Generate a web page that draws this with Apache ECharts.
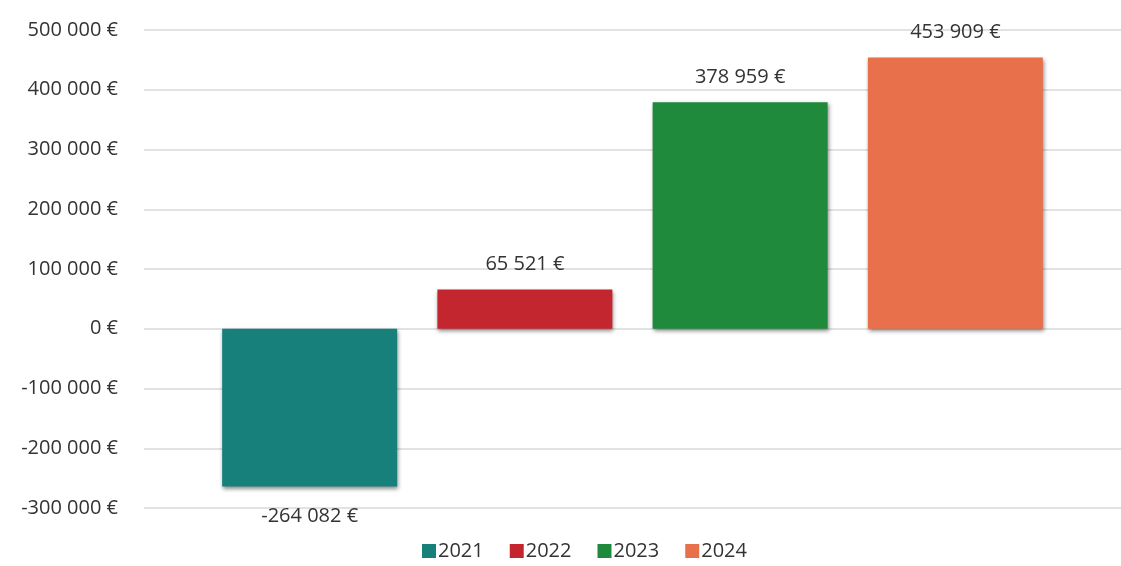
<!DOCTYPE html>
<html>
<head>
<meta charset="UTF-8">
<title>Résultat</title>
<script src="https://cdn.jsdelivr.net/npm/echarts@6/dist/echarts.min.js"></script>
<style>
  html, body { margin: 0; padding: 0; background: #fff; }
  #main { width: 1121px; height: 566px; }
</style>
</head>
<body>
<div id="main"></div>
<script>
var categories = [''];
var years = ['2021', '2022', '2023', '2024'];
var values = [-264082, 65521, 378959, 453909];
var colors = ['#17807b', '#c4262f', '#1f8a3c', '#e8714b'];

function euro(v) {
  var s = String(Math.abs(v)).replace(/\B(?=(\d{3})+(?!\d))/g, ' ');
  return (v < 0 ? '-' : '') + s + ' €';
}

var series = years.map(function (y, i) {
  return {
    name: y,
    type: 'bar',
    data: [values[i]],
    barGap: '23%',
    barCategoryGap: '16%',
    itemStyle: {
      color: colors[i],
      shadowBlur: 4,
      shadowColor: 'rgba(0,0,0,0.45)',
      shadowOffsetX: 1,
      shadowOffsetY: 2
    },
    label: {
      show: true,
      position: values[i] < 0 ? 'bottom' : 'top',
      distance: values[i] < 0 ? 20 : 15,
      color: '#333',
      fontSize: 20,
      fontFamily: 'Open Sans',
      formatter: function (p) { return euro(p.value); }
    }
  };
});

var myChart = echarts.init(document.getElementById('main'));
var option = {
  animation: false,
  color: colors,
  grid: { left: 144, right: 0, top: 30, bottom: 58 },
  legend: {
    bottom: 0,
    left: 417,
    itemWidth: 14,
    itemHeight: 14,
    itemGap: 26,
    icon: 'rect',
    textStyle: { color: '#333', fontSize: 20, fontFamily: 'Open Sans', padding: [0, 0, 0, -3] },
    data: years
  },
  xAxis: {
    type: 'category',
    data: categories,
    axisLine: { show: false },
    axisTick: { show: false },
    axisLabel: { show: false }
  },
  yAxis: {
    type: 'value',
    min: -300000,
    max: 500000,
    interval: 100000,
    axisLine: { show: false },
    axisTick: { show: false },
    axisLabel: {
      color: '#333',
      fontSize: 20,
      fontFamily: 'Open Sans',
      margin: 26,
      formatter: euro
    },
    splitLine: { lineStyle: { color: '#d9d9d9', width: 1.5 } }
  },
  series: series
};
myChart.setOption(option);
</script>
</body>
</html>
